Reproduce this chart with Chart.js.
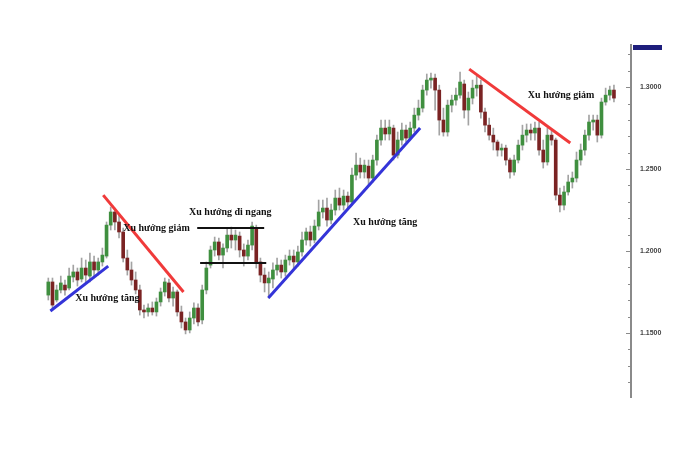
<!DOCTYPE html>
<html>
<head>
<meta charset="utf-8">
<script src="https://cdn.jsdelivr.net/npm/chart.js@4.4.1/dist/chart.umd.min.js"></script>
<style>
html,body{margin:0;padding:0;background:#fff;}
#wrap{width:689px;height:454px;position:relative;}
</style>
</head>
<body>
<div id="wrap"><canvas id="c"></canvas></div>
<script>
// ---- Data ----
const opens = [1.1731,1.1811,1.1701,1.1762,1.1792,1.1774,1.1841,1.1872,1.1829,1.1896,1.1847,1.1933,1.1884,1.1933,1.1969,1.2158,1.2238,1.2177,1.2116,1.1957,1.1884,1.1823,1.1762,1.1640,1.1628,1.1652,1.1628,1.1689,1.1750,1.1805,1.1713,1.1750,1.1628,1.1567,1.1518,1.1591,1.1652,1.1579,1.1762,1.1914,1.2006,1.2055,1.1975,1.2018,1.2097,1.2067,1.2091,1.2006,1.1969,1.2036,1.2140,1.1933,1.1853,1.1805,1.1829,1.1884,1.1914,1.1872,1.1945,1.1969,1.1933,1.1994,1.2067,1.2116,1.2067,1.2152,1.2238,1.2262,1.2189,1.2250,1.2323,1.2280,1.2335,1.2299,1.2463,1.2524,1.2482,1.2518,1.2445,1.2555,1.2677,1.2750,1.2714,1.2750,1.2585,1.2677,1.2738,1.2689,1.2750,1.2829,1.2872,1.2982,1.3043,1.3055,1.2982,1.2799,1.2726,1.2890,1.2921,1.2951,1.3019,1.2860,1.2933,1.2994,1.3012,1.2848,1.2768,1.2707,1.2665,1.2616,1.2628,1.2555,1.2482,1.2555,1.2646,1.2707,1.2738,1.2720,1.2750,1.2616,1.2543,1.2707,1.2677,1.2341,1.2280,1.2360,1.2421,1.2445,1.2555,1.2616,1.2707,1.2787,1.2799,1.2707,1.2909,1.2951,1.2982];
const highs = [1.1835,1.1835,1.1792,1.1847,1.1823,1.1896,1.1914,1.1896,1.1957,1.1945,1.1988,1.1969,1.1957,1.2018,1.2177,1.2268,1.2262,1.2226,1.2140,1.2006,1.1933,1.1872,1.1792,1.1670,1.1677,1.1689,1.1713,1.1774,1.1835,1.1829,1.1780,1.1762,1.1664,1.1591,1.1628,1.1683,1.1677,1.1792,1.1933,1.2030,1.2085,1.2079,1.2043,1.2140,1.2146,1.2128,1.2116,1.2043,1.2067,1.2177,1.2158,1.1957,1.1896,1.1872,1.1927,1.1957,1.1945,1.1975,1.2006,1.2006,1.2030,1.2116,1.2140,1.2152,1.2189,1.2311,1.2311,1.2323,1.2287,1.2372,1.2384,1.2372,1.2360,1.2506,1.2598,1.2567,1.2555,1.2555,1.2585,1.2707,1.2799,1.2799,1.2799,1.2768,1.2726,1.2781,1.2768,1.2787,1.2872,1.2921,1.3012,1.3080,1.3086,1.3080,1.3012,1.2872,1.2921,1.2951,1.2994,1.3092,1.3043,1.2970,1.3043,1.3067,1.3043,1.2872,1.2811,1.2750,1.2677,1.2653,1.2646,1.2567,1.2585,1.2677,1.2768,1.2775,1.2775,1.2787,1.2787,1.2677,1.2750,1.2738,1.2689,1.2384,1.2396,1.2463,1.2482,1.2604,1.2653,1.2738,1.2829,1.2829,1.2829,1.2933,1.2994,1.3006,1.3012];
const lows = [1.1701,1.1652,1.1689,1.1744,1.1731,1.1762,1.1811,1.1786,1.1811,1.1805,1.1811,1.1835,1.1853,1.1908,1.1957,1.2128,1.2128,1.2079,1.1933,1.1853,1.1792,1.1738,1.1609,1.1591,1.1603,1.1609,1.1603,1.1664,1.1725,1.1689,1.1664,1.1603,1.1530,1.1494,1.1500,1.1555,1.1542,1.1555,1.1738,1.1896,1.1969,1.1945,1.1896,1.1994,1.2018,1.2006,1.1963,1.1908,1.1945,1.2006,1.1896,1.1811,1.1750,1.1713,1.1774,1.1853,1.1835,1.1847,1.1914,1.1896,1.1908,1.1969,1.2036,1.2030,1.2049,1.2128,1.2201,1.2152,1.2165,1.2219,1.2250,1.2250,1.2262,1.2280,1.2433,1.2445,1.2445,1.2402,1.2421,1.2524,1.2646,1.2677,1.2677,1.2555,1.2567,1.2646,1.2665,1.2677,1.2726,1.2799,1.2848,1.2951,1.2994,1.2860,1.2707,1.2701,1.2701,1.2848,1.2890,1.2933,1.2811,1.2768,1.2897,1.2945,1.2811,1.2726,1.2677,1.2616,1.2579,1.2579,1.2524,1.2445,1.2463,1.2537,1.2616,1.2665,1.2677,1.2677,1.2585,1.2506,1.2524,1.2646,1.2311,1.2238,1.2250,1.2341,1.2384,1.2421,1.2524,1.2585,1.2677,1.2738,1.2665,1.2689,1.2890,1.2921,1.2909];
const closes = [1.1811,1.1670,1.1762,1.1805,1.1762,1.1847,1.1872,1.1823,1.1896,1.1853,1.1933,1.1884,1.1933,1.1975,1.2158,1.2238,1.2177,1.2116,1.1957,1.1884,1.1823,1.1762,1.1640,1.1628,1.1652,1.1628,1.1689,1.1750,1.1811,1.1713,1.1750,1.1628,1.1567,1.1518,1.1591,1.1652,1.1567,1.1762,1.1896,1.2006,1.2055,1.1975,1.2018,1.2097,1.2067,1.2097,1.2006,1.1969,1.2036,1.2152,1.1933,1.1853,1.1805,1.1835,1.1884,1.1914,1.1872,1.1945,1.1969,1.1933,1.1994,1.2067,1.2116,1.2067,1.2152,1.2238,1.2262,1.2189,1.2250,1.2323,1.2280,1.2335,1.2299,1.2463,1.2524,1.2482,1.2524,1.2445,1.2555,1.2677,1.2750,1.2714,1.2756,1.2585,1.2677,1.2738,1.2689,1.2750,1.2829,1.2872,1.2982,1.3043,1.3055,1.2982,1.2799,1.2726,1.2890,1.2921,1.2951,1.3031,1.2860,1.2933,1.2994,1.3012,1.2848,1.2768,1.2707,1.2665,1.2616,1.2628,1.2555,1.2482,1.2555,1.2646,1.2707,1.2738,1.2720,1.2750,1.2616,1.2543,1.2707,1.2677,1.2341,1.2280,1.2360,1.2421,1.2445,1.2555,1.2616,1.2707,1.2787,1.2799,1.2707,1.2909,1.2951,1.2982,1.2933];

// Trend lines: [x (candle index), price] end points
const upTrend1X = [0.5, 14.4];     const upTrend1Y = [1.1634, 1.1908];
const downTrend1X = [13.2, 32.5];  const downTrend1Y = [1.2341, 1.1750];
const rangeTopX = [35.8, 51.9];    const rangeTopY = [1.2140, 1.2140];
const rangeBotX = [36.5, 52.4];    const rangeBotY = [1.1927, 1.1927];
const upTrend2X = [52.9, 89.4];    const upTrend2Y = [1.1713, 1.2750];
const downTrend2X = [101.2, 125.5];const downTrend2Y = [1.3110, 1.2659];

// Annotation texts and their anchors (candle index, price)
const noteTexts = ["Xu hướng tăng", "Xu hướng giảm", "Xu hướng đi ngang", "Xu hướng tăng", "Xu hướng giảm"];
const noteX = [14.2, 26.0, 43.75, 81.0, 123.3];
const noteY = [1.1713, 1.2140, 1.2238, 1.2177, 1.2951];

// y-axis ticks
const yMin = 1.1109, yMax = 1.3257, yStep = 0.01;

// ---- Build ----
const UP = '#3f8f3f', DOWN = '#7a2323', WICK = '#a3a3a3';
const idx = opens.map((_, i) => i);
const wickData = idx.map(i => ({x: i, y: [lows[i], highs[i]]}));
const bodyData = idx.map(i => ({x: i, y: [opens[i], closes[i]]}));
const bodyColors = idx.map(i => closes[i] >= opens[i] ? UP : DOWN);
const seg = (xs, ys) => xs.map((x, k) => ({x: x, y: ys[k]}));
const lineDs = (xs, ys, color, w) => ({
  type: 'line', data: seg(xs, ys), borderColor: color, borderWidth: w,
  pointRadius: 0, fill: false, order: 0, tension: 0
});

const notesPlugin = {
  id: 'notes',
  afterDatasetsDraw(chart) {
    const {ctx, scales: {x, y}, chartArea} = chart;
    ctx.save();
    ctx.font = 'bold 10px "Liberation Serif"';
    ctx.fillStyle = '#111';
    ctx.textAlign = 'center';
    ctx.textBaseline = 'middle';
    noteTexts.forEach((t, k) => ctx.fillText(t, x.getPixelForValue(noteX[k]), y.getPixelForValue(noteY[k])));
    // minor ticks on the inner side of the axis
    ctx.strokeStyle = '#8a8a8a';
    ctx.lineWidth = 1;
    const r = chartArea.right;
    for (let k = Math.ceil(yMin * 100); k <= Math.floor(yMax * 100); k++) {
      const py = Math.round(y.getPixelForValue(k / 100)) + 0.5;
      const len = (k % 5 === 0) ? 4 : 2;
      ctx.beginPath(); ctx.moveTo(r - 1 - len, py); ctx.lineTo(r - 1, py); ctx.stroke();
    }
    // price tag box at top of the axis
    ctx.fillStyle = '#1e1e7c';
    ctx.fillRect(r + 2, chartArea.top, 29, 5);
    ctx.restore();
  }
};

new Chart(document.getElementById('c'), {
  type: 'bar',
  data: {
    datasets: [
      {data: wickData, backgroundColor: WICK, barThickness: 1, grouped: false, order: 3},
      {data: bodyData, backgroundColor: bodyColors, barThickness: 3, grouped: false, order: 2},
      lineDs(upTrend1X, upTrend1Y, '#3434d8', 3),
      lineDs(downTrend1X, downTrend1Y, '#f03a3a', 3),
      lineDs(rangeTopX, rangeTopY, '#111111', 2),
      lineDs(rangeBotX, rangeBotY, '#111111', 2),
      lineDs(upTrend2X, upTrend2Y, '#3434d8', 3),
      lineDs(downTrend2X, downTrend2Y, '#f03a3a', 3)
    ]
  },
  options: {
    responsive: true,
    maintainAspectRatio: false,
    animation: false,
    layout: {padding: {left: 40, top: 45, bottom: 57, right: 0}},
    plugins: {legend: {display: false}, tooltip: {enabled: false}},
    scales: {
      x: {type: 'linear', display: false, min: -2, max: 140.1, offset: false},
      y: {
        position: 'right', min: yMin, max: yMax,
        afterFit(s) { s.width = 58; },
        grid: {drawOnChartArea: false, drawTicks: false},
        border: {display: true, color: '#8a8a8a', width: 2},
        ticks: {
          stepSize: yStep, autoSkip: false, padding: 9,
          color: '#444', font: {family: 'Liberation Sans', size: 7, weight: 'bold'},
          callback: v => (Math.abs(v * 20 - Math.round(v * 20)) < 1e-6) ? Number(v).toFixed(4) : ''
        }
      }
    }
  },
  plugins: [notesPlugin]
});
</script>
</body>
</html>
